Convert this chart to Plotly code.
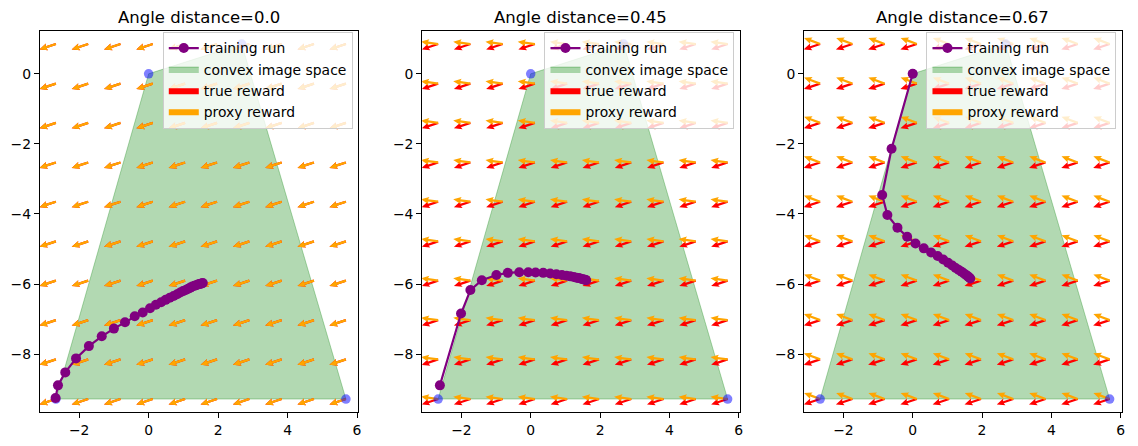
import numpy as np
import plotly.graph_objects as go
from plotly.subplots import make_subplots

FONT = "DejaVu Sans"

# angle (radians) between true and proxy reward, one per panel
angle_distances = [0.0, 0.45, 0.67]
true_angle_deg = 198.0   # direction of the true-reward arrows
arrow_len = 0.5

# corners of the convex image space
hull_x = [0.0, 2.68, 5.68, -2.67]
hull_y = [0.0, 0.85, -9.28, -9.28]

# quiver grid (tails of the arrows)
grid_cols = [-2.67, -1.74, -0.81, 0.12, 1.05, 1.97, 2.90, 3.83, 4.76, 5.68]
grid_rows = [0.85, -0.28, -1.40, -2.53, -3.65, -4.78, -5.90, -7.03, -8.15, -9.28]

# training runs
run1_x = [-2.68, -2.61, -2.40, -2.09, -1.72, -1.35, -1.00, -0.68, -0.40, -0.17, 0.04, 0.21,
          0.36, 0.49, 0.61, 0.72, 0.82, 0.91, 0.99, 1.07, 1.14, 1.20, 1.26, 1.32, 1.37,
          1.42, 1.46, 1.50, 1.53, 1.56]
run1_y = [-9.25, -8.89, -8.52, -8.12, -7.77, -7.49, -7.27, -7.09, -6.92, -6.81, -6.69, -6.59,
          -6.52, -6.45, -6.39, -6.34, -6.29, -6.24, -6.20, -6.17, -6.13, -6.10, -6.07, -6.05,
          -6.03, -6.01, -6.00, -5.99, -5.98, -5.97]
run2_x = [-2.62, -2.01, -1.74, -1.41, -0.99, -0.66, -0.33, -0.07, 0.14, 0.36, 0.56, 0.74,
          0.90, 1.03, 1.14, 1.24, 1.32, 1.39, 1.45, 1.50, 1.54, 1.58, 1.60]
run2_y = [-8.89, -6.84, -6.17, -5.89, -5.74, -5.68, -5.66, -5.66, -5.67, -5.68, -5.70, -5.72,
          -5.74, -5.76, -5.78, -5.80, -5.82, -5.83, -5.85, -5.86, -5.87, -5.88, -5.89]
run3_x = [0.0, -0.61, -0.88, -0.73, -0.44, -0.16, 0.08, 0.32, 0.53, 0.72, 0.88, 1.02, 1.14,
          1.24, 1.33, 1.41, 1.48, 1.54, 1.59, 1.63, 1.66]
run3_y = [0.0, -2.14, -3.46, -4.03, -4.39, -4.65, -4.84, -4.98, -5.10, -5.20, -5.30, -5.39,
          -5.47, -5.54, -5.60, -5.65, -5.70, -5.74, -5.78, -5.81, -5.84]
runs = [(run1_x, run1_y), (run2_x, run2_y), (run3_x, run3_y)]

X_RANGE = [-3.13, 6.03]
Y_RANGE = [-9.65, 1.23]
W, H = 1138, 446
OFF = 8  # page body margin: the figure div sits 8px in from the window corner

x_px = [(40, 359), (423.3, 741.7), (806.3, 1124.7)]  # axes edges in window pixels
x_domains = [((a - OFF) / W, (b - OFF) / W) for a, b in x_px]
y_domain = (1 - (412 - OFF) / H, 1 - (30.7 - OFF) / H)


def arrow_polys(angle_deg):
    """Filled quiver-style arrows at every grid point, as one None-separated path."""
    a = np.deg2rad(angle_deg)
    u = np.array([np.cos(a), np.sin(a)])
    n = np.array([-u[1], u[0]])
    shaft, head_w, head_l = 0.065, 0.2, 0.23
    local = [(0, shaft / 2), (arrow_len - head_l * 0.88, shaft / 2),
             (arrow_len - head_l, head_w / 2), (arrow_len, 0),
             (arrow_len - head_l, -head_w / 2), (arrow_len - head_l * 0.88, -shaft / 2),
             (0, -shaft / 2), (0, shaft / 2)]
    xs, ys = [], []
    for gy in grid_rows:
        for gx in grid_cols:
            for s, t in local:
                p = np.array([gx, gy]) + s * u + t * n
                xs.append(p[0])
                ys.append(p[1])
            xs.append(None)
            ys.append(None)
    return xs, ys


fig = make_subplots(rows=1, cols=3)

for i, dist in enumerate(angle_distances):
    col = i + 1
    leg = "legend" if i == 0 else f"legend{i + 1}"

    fig.add_trace(go.Scatter(
        x=hull_x + [hull_x[0]], y=hull_y + [hull_y[0]], fill="toself", mode="lines",
        fillcolor="rgba(0,128,0,0.3)", line=dict(color="rgba(0,128,0,0.3)", width=1),
        name="convex image space", legend=leg, legendrank=2, hoverinfo="skip",
    ), row=1, col=col)

    tx, ty = arrow_polys(true_angle_deg)
    fig.add_trace(go.Scatter(
        x=tx, y=ty, fill="toself", mode="lines", fillcolor="red",
        line=dict(color="red", width=0), name="true reward", legend=leg,
        legendrank=3, hoverinfo="skip",
    ), row=1, col=col)

    px_, py_ = arrow_polys(true_angle_deg - np.rad2deg(dist))
    fig.add_trace(go.Scatter(
        x=px_, y=py_, fill="toself", mode="lines", fillcolor="orange",
        line=dict(color="orange", width=0), name="proxy reward", legend=leg,
        legendrank=4, hoverinfo="skip",
    ), row=1, col=col)

    fig.add_trace(go.Scatter(
        x=hull_x, y=hull_y, mode="markers",
        marker=dict(color="rgba(0,0,255,0.5)", size=9.5, line=dict(width=0)),
        showlegend=False,
    ), row=1, col=col)

    rx, ry = runs[i]
    fig.add_trace(go.Scatter(
        x=rx, y=ry, mode="lines+markers", name="training run",
        line=dict(color="purple", width=2.2), marker=dict(color="purple", size=10),
        legend=leg, legendrank=1,
    ), row=1, col=col)

    xa = "xaxis" if i == 0 else f"xaxis{col}"
    ya = "yaxis" if i == 0 else f"yaxis{col}"
    axis_common = dict(showgrid=False, zeroline=False, showline=True, mirror=True,
                       linecolor="black", linewidth=1.1, ticks="outside", ticklen=5,
                       tickcolor="black", tickwidth=1.1,
                       tickfont=dict(family=FONT, size=13.9, color="black"))
    fig.layout[xa].update(domain=x_domains[i], range=X_RANGE,
                          tickvals=[-2, 0, 2, 4, 6], ticktext=["\u22122", "0", "2", "4", "6"],
                          **axis_common)
    fig.layout[ya].update(domain=y_domain, range=Y_RANGE,
                          tickvals=[-8, -6, -4, -2, 0],
                          ticktext=["\u22128", "\u22126", "\u22124", "\u22122", "0"],
                          **axis_common)

    fig.add_annotation(
        text=f"Angle distance={dist}", xref="paper", yref="paper",
        x=(x_domains[i][0] + x_domains[i][1]) / 2, y=1 - 21 / H,
        xanchor="center", yanchor="bottom", showarrow=False,
        font=dict(family=FONT, size=16.5, color="black"),
    )

    fig.layout[leg] = dict(
        x=(x_px[i][1] - 7.3 - OFF + 2) / W, y=1 - 23.5 / H, xanchor="right", yanchor="top",
        bgcolor="rgba(255,255,255,0.8)", bordercolor="#cccccc", borderwidth=1,
        font=dict(family=FONT, size=13.9, color="black"), tracegroupgap=0,
    )

fig.update_layout(
    width=W, height=H, margin=dict(l=0, r=0, t=0, b=0),
    plot_bgcolor="white", paper_bgcolor="white",
    font=dict(family=FONT, color="black"),
)

fig.write_html("out.html")
